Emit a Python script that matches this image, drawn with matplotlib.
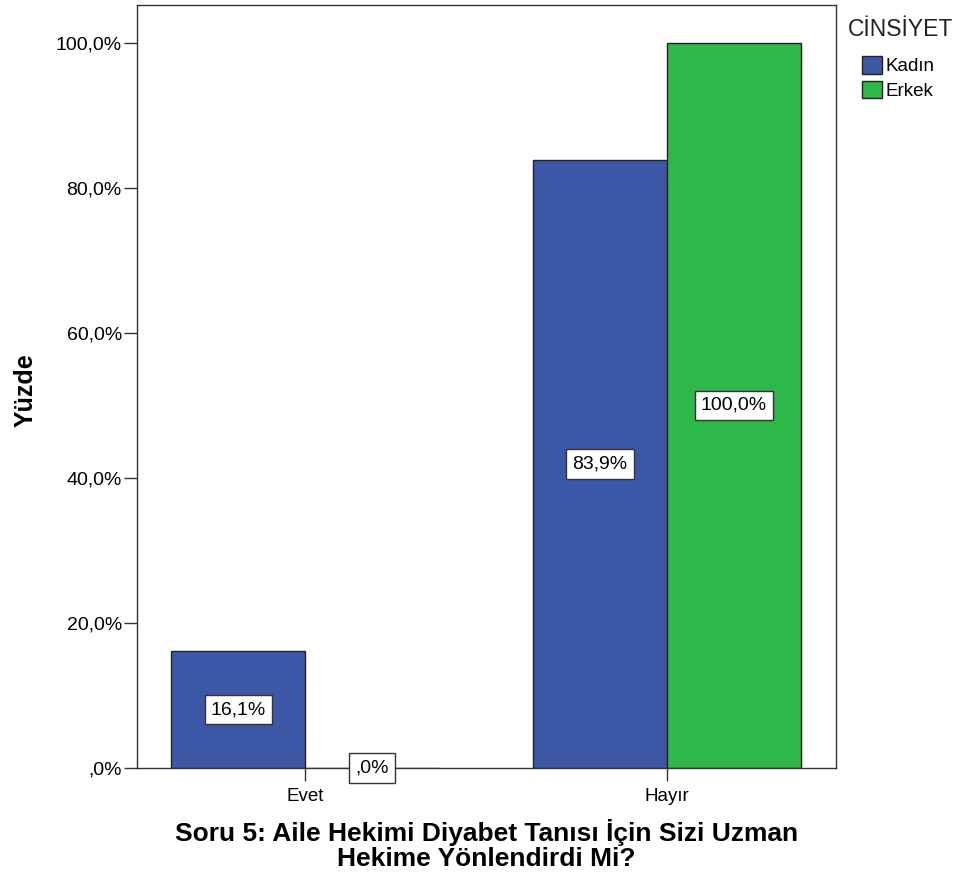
import matplotlib.pyplot as plt
import numpy as np

plt.rcParams['font.family'] = ['Liberation Sans', 'DejaVu Sans']

categories = ['Evet', 'Hayır']
groups = ['Kadın', 'Erkek']
kadin = [16.1, 83.9]
erkek = [0.0, 100.0]
colors = ['#3d57a7', '#2fb84a']

fig = plt.figure(figsize=(9.61, 8.81), dpi=100)
ax = fig.add_axes([0.1426, 0.1283, 0.7274, 0.866])

x = np.arange(len(categories))
w = 0.37
bars = []
for i, (vals, col, name) in enumerate(zip([kadin, erkek], colors, groups)):
    offs = -w / 2 if i == 0 else w / 2
    b = ax.bar(x + offs, vals, width=w, color=col, edgecolor='#222222',
               linewidth=1, label=name, zorder=2)
    bars.append(b)
    for xi, v in zip(x + offs, vals):
        txt = f'{v:.1f}%'.replace('.', ',')
        if txt.startswith('0'):
            txt = txt[1:]
        ax.text(xi, v / 2, txt, ha='center', va='center', fontsize=14,
                zorder=4,
                bbox=dict(boxstyle='square,pad=0.32', fc='white', ec='#333333', lw=1))

ax.set_xlim(-0.465, 1.467)
ax.set_ylim(0, 105.24)
yt = [0, 20, 40, 60, 80, 100]
ax.set_yticks(yt)
ax.set_yticklabels([',0%'] + [f'{v:.1f}%'.replace('.', ',') for v in yt[1:]], fontsize=14)
ax.set_xticks(x)
ax.set_xticklabels(categories, fontsize=13.5)
ax.tick_params(length=9.5, width=1, color='#333333', pad=1.5)
ax.tick_params(axis='x', pad=5)
for s in ax.spines.values():
    s.set_color('#333333')
    s.set_linewidth(1)

ax.set_ylabel('Yüzde', fontsize=18, fontweight='bold', va='center')
ax.yaxis.set_label_coords(-0.16, 0.495)
fig.text(0.5063, 1 - 845 / 881,
         'Soru 5: Aile Hekimi Diyabet Tanısı İçin Sizi Uzman\nHekime Yönlendirdi Mi?',
         fontsize=19, fontweight='bold', ha='center', va='center', linespacing=1.0)

fig.text(0.882, 0.966, 'CİNSİYET', fontsize=16.5, ha='left', va='center', color='#222222')
leg = fig.legend(handles=[b[0] for b in bars], labels=groups, loc='upper left',
                 bbox_to_anchor=(0.897, 0.936), frameon=False, fontsize=13.5,
                 handlelength=1.05, handleheight=1.05, handletextpad=0.2,
                 labelspacing=0.3, borderpad=0, borderaxespad=0)

fig.savefig('out.png', dpi=100)
